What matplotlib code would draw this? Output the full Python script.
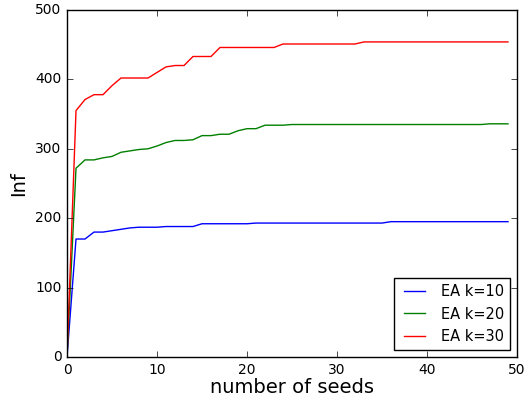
import numpy as np
import matplotlib as mpl
mpl.use('Agg')
from matplotlib import pyplot as plt

plt.style.use('classic')

# seeds 0..49
seeds = list(range(50))

# influence for k=10
inf_k10 = [0, 170, 170, 180, 180, 182, 184, 186, 187, 187,
           187, 188, 188, 188, 188, 192, 192, 192, 192, 192,
           192, 193, 193, 193, 193, 193, 193, 193, 193, 193,
           193, 193, 193, 193, 193, 193, 195, 195, 195, 195,
           195, 195, 195, 195, 195, 195, 195, 195, 195, 195]

# influence for k=20
inf_k20 = [0, 272, 284, 284, 287, 289, 295, 297, 299, 300,
           304, 309, 312, 312, 313, 319, 319, 321, 321, 326,
           329, 329, 334, 334, 334, 335, 335, 335, 335, 335,
           335, 335, 335, 335, 335, 335, 335, 335, 335, 335,
           335, 335, 335, 335, 335, 335, 335, 336, 336, 336]

# influence for k=30
inf_k30 = [0, 355, 371, 378, 378, 391, 402, 402, 402, 402,
           410, 418, 420, 420, 433, 433, 433, 446, 446, 446,
           446, 446, 446, 446, 451, 451, 451, 451, 451, 451,
           451, 451, 451, 454, 454, 454, 454, 454, 454, 454,
           454, 454, 454, 454, 454, 454, 454, 454, 454, 454]

fig = plt.figure(figsize=(5.31, 4.0), dpi=100, facecolor='white')
ax = fig.add_axes([0.1262, 0.1075, 0.8474, 0.8675])

ax.plot(seeds, inf_k10, color='b', lw=1., label='EA k=10')
ax.plot(seeds, inf_k20, color='g', lw=1., label='EA k=20')
ax.plot(seeds, inf_k30, color='r', lw=1., label='EA k=30')

ax.set_xlim(0, 50)
ax.set_ylim(0, 500)
ax.set_xticks([0, 10, 20, 30, 40, 50])
ax.set_yticks([0, 100, 200, 300, 400, 500])
ax.tick_params(labelsize=10)
ax.set_xlabel('number of seeds', fontsize=14, labelpad=1)
ax.set_ylabel('Inf', fontsize=14)

ax.legend(loc='lower right', fontsize=10.5, borderaxespad=0.5)

fig.savefig('out.png', dpi=100, facecolor='white')
